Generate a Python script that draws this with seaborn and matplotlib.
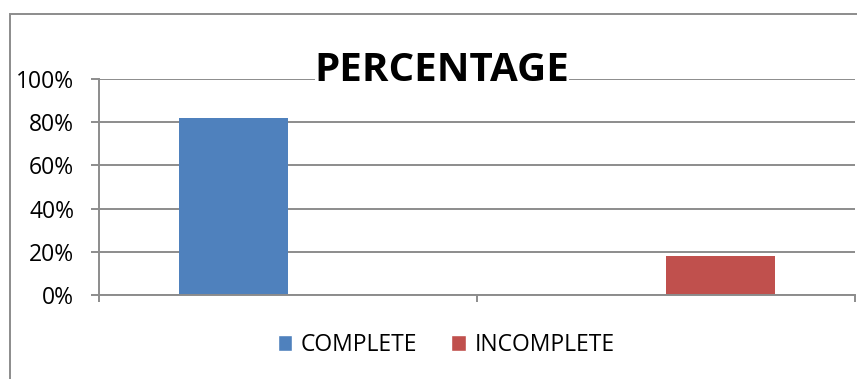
import matplotlib
matplotlib.use("Agg")
import matplotlib.pyplot as plt
import matplotlib.patches as mpatches
import seaborn as sns
import pandas as pd
from matplotlib.ticker import FuncFormatter

# ---- data ----
categories = ["1", "2"]
series_names = ["COMPLETE", "INCOMPLETE"]
complete_values = [82, 0]
incomplete_values = [0, 18]
y_ticks = [0, 20, 40, 60, 80, 100]
title_text = "PERCENTAGE"
colors = ["#4F81BD", "#C0504D"]

df = pd.DataFrame({
    "category": categories * 2,
    "series": [series_names[0]] * len(categories) + [series_names[1]] * len(categories),
    "value": complete_values + incomplete_values,
})

sns.set_theme(style="white")
plt.rcParams["font.family"] = ["Open Sans", "DejaVu Sans"]
plt.rcParams["text.color"] = "black"

W, H = 857, 379
fig = plt.figure(figsize=(W / 100, H / 100), dpi=100)
ax = fig.add_axes([99 / W, (H - 295) / H, (855 - 99) / W, (295 - 79) / H])

sns.barplot(data=df, x="category", y="value", hue="series", palette=colors,
            width=0.577, dodge=True, ax=ax, saturation=1, legend=True)

grid_c = "#8C8C8C"
ax.set_xlim(-0.5, 1.5)
ax.set_ylim(0, 100)
ax.set_yticks(y_ticks)
ax.yaxis.set_major_formatter(FuncFormatter(lambda v, p: f"{int(v)}%"))
ax.set_xticks([-0.5, 0.5, 1.5])
ax.set_xticklabels([])
ax.set_xlabel("")
ax.set_ylabel("")
ax.grid(axis="y", color=grid_c, linewidth=1.4)
ax.set_axisbelow(True)
for s in ["top", "right"]:
    ax.spines[s].set_visible(False)
for s in ["left", "bottom"]:
    ax.spines[s].set_color(grid_c)
    ax.spines[s].set_linewidth(1.4)
ax.tick_params(axis="y", left=True, length=6, width=1.4, color=grid_c,
               labelsize=16.5, labelcolor="black", pad=12)
ax.tick_params(axis="x", bottom=True, length=5, width=1.4, color=grid_c)
for p in ax.patches:
    p.set_edgecolor("none")

sns.move_legend(ax, "center", bbox_to_anchor=(446 / W, 1 - 345 / H),
                bbox_transform=fig.transFigure, ncol=2, frameon=False, title=None,
                fontsize=16.5, handlelength=0.65, handleheight=0.65,
                handletextpad=0.35, columnspacing=1.5)
for t in ax.get_legend().get_texts():
    t.set_color("black")

fig.text(442 / W, 1 - 81 / H, title_text, ha="center", va="baseline",
         fontsize=29, fontweight="bold", color="black",
         bbox=dict(facecolor="white", edgecolor="none", pad=0))

# outer chart border (extends past bottom/right)
fig.patches.append(mpatches.Rectangle((10 / W, -0.1), 1.2, 1 - 14 / H + 0.1,
                                      transform=fig.transFigure, fill=False,
                                      edgecolor=grid_c, linewidth=1.4))

fig.savefig("out.png", dpi=100)
